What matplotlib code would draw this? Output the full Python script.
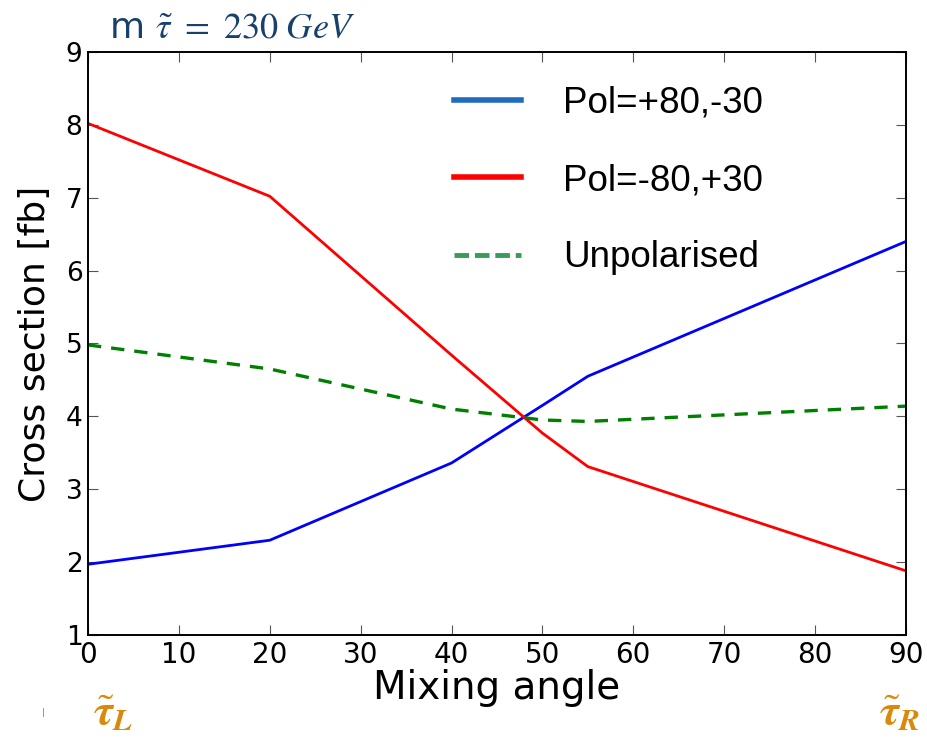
import numpy as np
import matplotlib.pyplot as plt
from matplotlib.lines import Line2D

# data
angle = [0, 20, 40, 50, 55, 90]
pol_plus = [1.97, 2.30, 3.36, 4.15, 4.55, 6.40]
pol_minus = [8.02, 7.02, 4.84, 3.77, 3.31, 1.88]
unpol = [4.98, 4.65, 4.10, 3.95, 3.93, 4.14]
labels = ["Pol=+80,-30", "Pol=-80,+30", "Unpolarised"]
xticks = list(range(0, 91, 10))
yticks = list(range(1, 10))

plt.rcParams['mathtext.fontset'] = 'stix'

fig = plt.figure(figsize=(9.27, 7.38), dpi=100)
ax = fig.add_axes([0.0949, 0.1396, 0.8824, 0.79])

ax.plot(angle, pol_plus, c='#0000ff', lw=2.0)
ax.plot(angle, pol_minus, c='#ff0000', lw=2.0)
ax.plot(angle, unpol, c='#007f00', lw=2.4, ls=(0, (4, 3)))

ax.set_xlim(0, 90)
ax.set_ylim(1, 9)
ax.set_xticks(xticks)
ax.set_yticks(yticks)
ax.set_xticklabels([str(t) for t in xticks], fontsize=20, family='DejaVu Sans')
ax.set_yticklabels([str(t) for t in yticks], fontsize=19, family='DejaVu Sans')
ax.tick_params(direction='in', length=7, width=0.8, color='#555555',
               top=True, right=True, pad=4)
for s in ax.spines.values():
    s.set_linewidth(1.4)

ax.set_xlabel("Mixing angle", fontsize=28, family='DejaVu Sans', labelpad=0)
ax.set_ylabel("Cross section [fb]", fontsize=26, family='DejaVu Sans', labelpad=10)

# legend uses its own proxy handles (colours differ slightly from the plotted lines)
handles = [Line2D([], [], c='#1f6bbf', lw=4),
           Line2D([], [], c='#ff0000', lw=4),
           Line2D([], [], c='#3a9a5a', lw=3.5, ls=(0, (3, 1.2)))]
leg = ax.legend(handles, labels, loc='upper left', bbox_to_anchor=(0.448, 0.942),
                frameon=False, prop={'family': 'Liberation Sans', 'size': 26.5},
                handlelength=1.8, handletextpad=1.15, labelspacing=1.15,
                borderpad=0, borderaxespad=0)

fig.text(0.118, 0.963, r"m $\tilde{\tau}\ =\ 230\ \mathit{GeV}$", fontsize=26,
         color='#17406d', va='center', ha='left')
fig.text(0.1, 0.035, r"$\tilde{\boldsymbol{\tau}}_{\boldsymbol{L}}$", fontsize=32,
         color='#d98a0b', va='center', ha='left')
fig.text(0.948, 0.035, r"$\tilde{\boldsymbol{\tau}}_{\boldsymbol{R}}$", fontsize=32,
         color='#d98a0b', va='center', ha='left')
fig.text(0.047, 0.035, "|", fontsize=6, color='#777777', va='center', ha='center')

fig.savefig("out.png", dpi=100)
